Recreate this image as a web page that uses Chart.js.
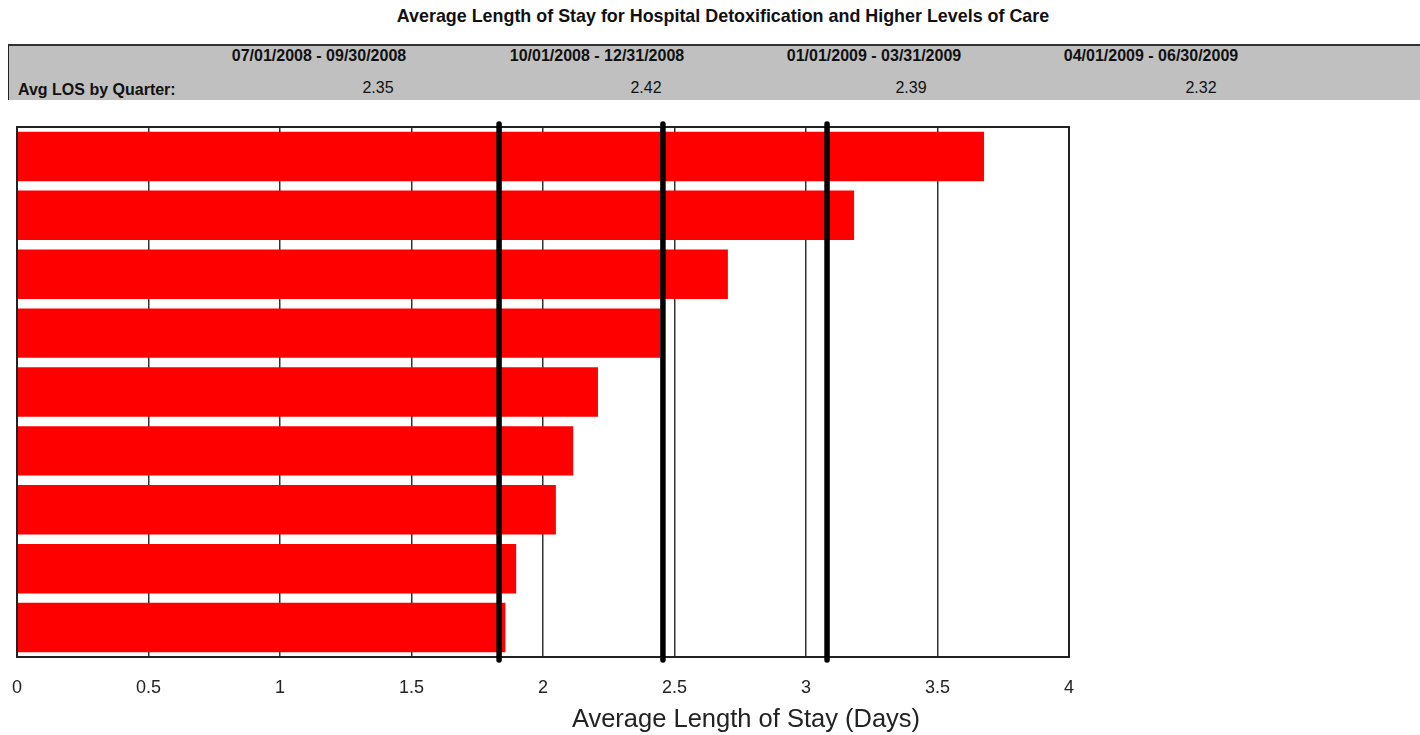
<!DOCTYPE html>
<html>
<head>
<meta charset="utf-8">
<script src="https://cdn.jsdelivr.net/npm/chart.js@4.4.1/dist/chart.umd.min.js"></script>
<style>
  body { margin: 0; background: #fff; font-family: 'Liberation Sans', Arial, sans-serif; }
  #page { position: relative; width: 1420px; height: 735px; overflow: hidden; }
  #titulo { position: absolute; top: 6px; left: 0; width: 1446px; text-align: center; font-weight: bold; font-size: 17.9px; color: #111; }
  #faixa { position: absolute; left: 8px; top: 44px; width: 1412px; height: 56px; background: #c0c0c0; border-top: 2px solid #333; border-left: 1px solid #222; box-sizing: border-box; }
  .cab { position: absolute; top: 1px; width: 300px; margin-left: -150px; text-align: center; font-weight: bold; font-size: 16px; color: #111; }
  .val { position: absolute; top: 33px; width: 300px; margin-left: -150px; text-align: center; font-size: 16px; color: #111; }
  #rotulo { position: absolute; left: 9px; top: 35px; font-weight: bold; font-size: 16px; color: #111; }
  #grafico { position: absolute; left: 0; top: 110px; width: 1420px; height: 625px; }
</style>
</head>
<body>
<div id="page">
  <div id="titulo">Average Length of Stay for Hospital Detoxification and Higher Levels of Care</div>
  <div id="faixa"><div id="rotulo">Avg LOS by Quarter:</div></div>
  <div id="grafico"><canvas id="canvas"></canvas></div>
</div>
<script>
const listaTrimestres = ['07/01/2008 - 09/30/2008', '10/01/2008 - 12/31/2008', '01/01/2009 - 03/31/2009', '04/01/2009 - 06/30/2009'];
const listaMediasTrimestre = ['2.35', '2.42', '2.39', '2.32'];

const listaCategorias = ['1', '2', '3', '4', '5', '6', '7', '8', '9'];
const listaValores = [3.677, 3.183, 2.703, 2.445, 2.209, 2.115, 2.049, 1.898, 1.857];

// media e +/- 1 desvio padrao
const listaLinhasReferencia = [1.833, 2.456, 3.080];

const listaTicks = [0, 0.5, 1, 1.5, 2, 2.5, 3, 3.5, 4];

// cabecalho da faixa cinza
const centrosCabecalho = [310, 588, 865, 1142];
const centrosValores = [369, 637, 902, 1192];
const faixa = document.getElementById('faixa');
listaTrimestres.forEach((trimestre, i) => {
    const cab = document.createElement('div');
    cab.className = 'cab';
    cab.style.left = centrosCabecalho[i] + 'px';
    cab.textContent = trimestre;
    faixa.appendChild(cab);

    const val = document.createElement('div');
    val.className = 'val';
    val.style.left = centrosValores[i] + 'px';
    val.textContent = listaMediasTrimestre[i];
    faixa.appendChild(val);
});

const pluginMoldura = {
    id: 'moldura',
    afterDatasetsDraw(chart) {
        const { ctx, chartArea, scales } = chart;
        ctx.save();
        ctx.strokeStyle = '#222';
        ctx.lineWidth = 2;
        ctx.strokeRect(chartArea.left, chartArea.top, chartArea.right - chartArea.left, chartArea.bottom - chartArea.top);

        ctx.strokeStyle = '#000';
        ctx.lineWidth = 5.5;
        ctx.lineCap = 'round';
        listaLinhasReferencia.forEach((valor) => {
            const x = scales.x.getPixelForValue(valor);
            ctx.beginPath();
            ctx.moveTo(x, chartArea.top - 3);
            ctx.lineTo(x, chartArea.bottom + 3);
            ctx.stroke();
        });

        ctx.fillStyle = '#222';
        ctx.font = '25.5px "Liberation Sans", Arial, sans-serif';
        ctx.textAlign = 'center';
        ctx.textBaseline = 'middle';
        ctx.fillText('Average Length of Stay (Days)', 746, chartArea.bottom + 63);
        ctx.restore();
    }
};

const contexto = document.getElementById('canvas').getContext('2d');

new Chart(contexto, {
    type: 'bar',
    data: {
        labels: listaCategorias,
        datasets: [
            {
                data: listaValores,
                backgroundColor: '#ff0000',
                borderWidth: 0,
                barPercentage: 0.84,
                categoryPercentage: 1
            }
        ]
    },
    options: {
        indexAxis: 'y',
        responsive: true,
        maintainAspectRatio: false,
        animation: false,
        layout: {
            padding: { left: 17, right: 351, top: 17, bottom: 0 }
        },
        scales: {
            x: {
                min: 0,
                max: 4,
                afterBuildTicks: (escala) => {
                    escala.ticks = listaTicks.map((v) => ({ value: v }));
                },
                afterFit: (escala) => {
                    escala.height = 78;
                    escala.paddingLeft = 0;
                    escala.paddingRight = 0;
                },
                ticks: {
                    color: '#222',
                    font: { size: 18, family: '"Liberation Sans", Arial, sans-serif' },
                    padding: 20,
                    maxRotation: 0,
                    callback: (valor) => String(valor)
                },
                grid: {
                    color: '#333',
                    lineWidth: 1.5,
                    drawTicks: false
                },
                border: { display: false }
            },
            y: {
                display: false
            }
        },
        plugins: {
            legend: { display: false },
            tooltip: { enabled: false }
        }
    },
    plugins: [pluginMoldura]
});
</script>
</body>
</html>
